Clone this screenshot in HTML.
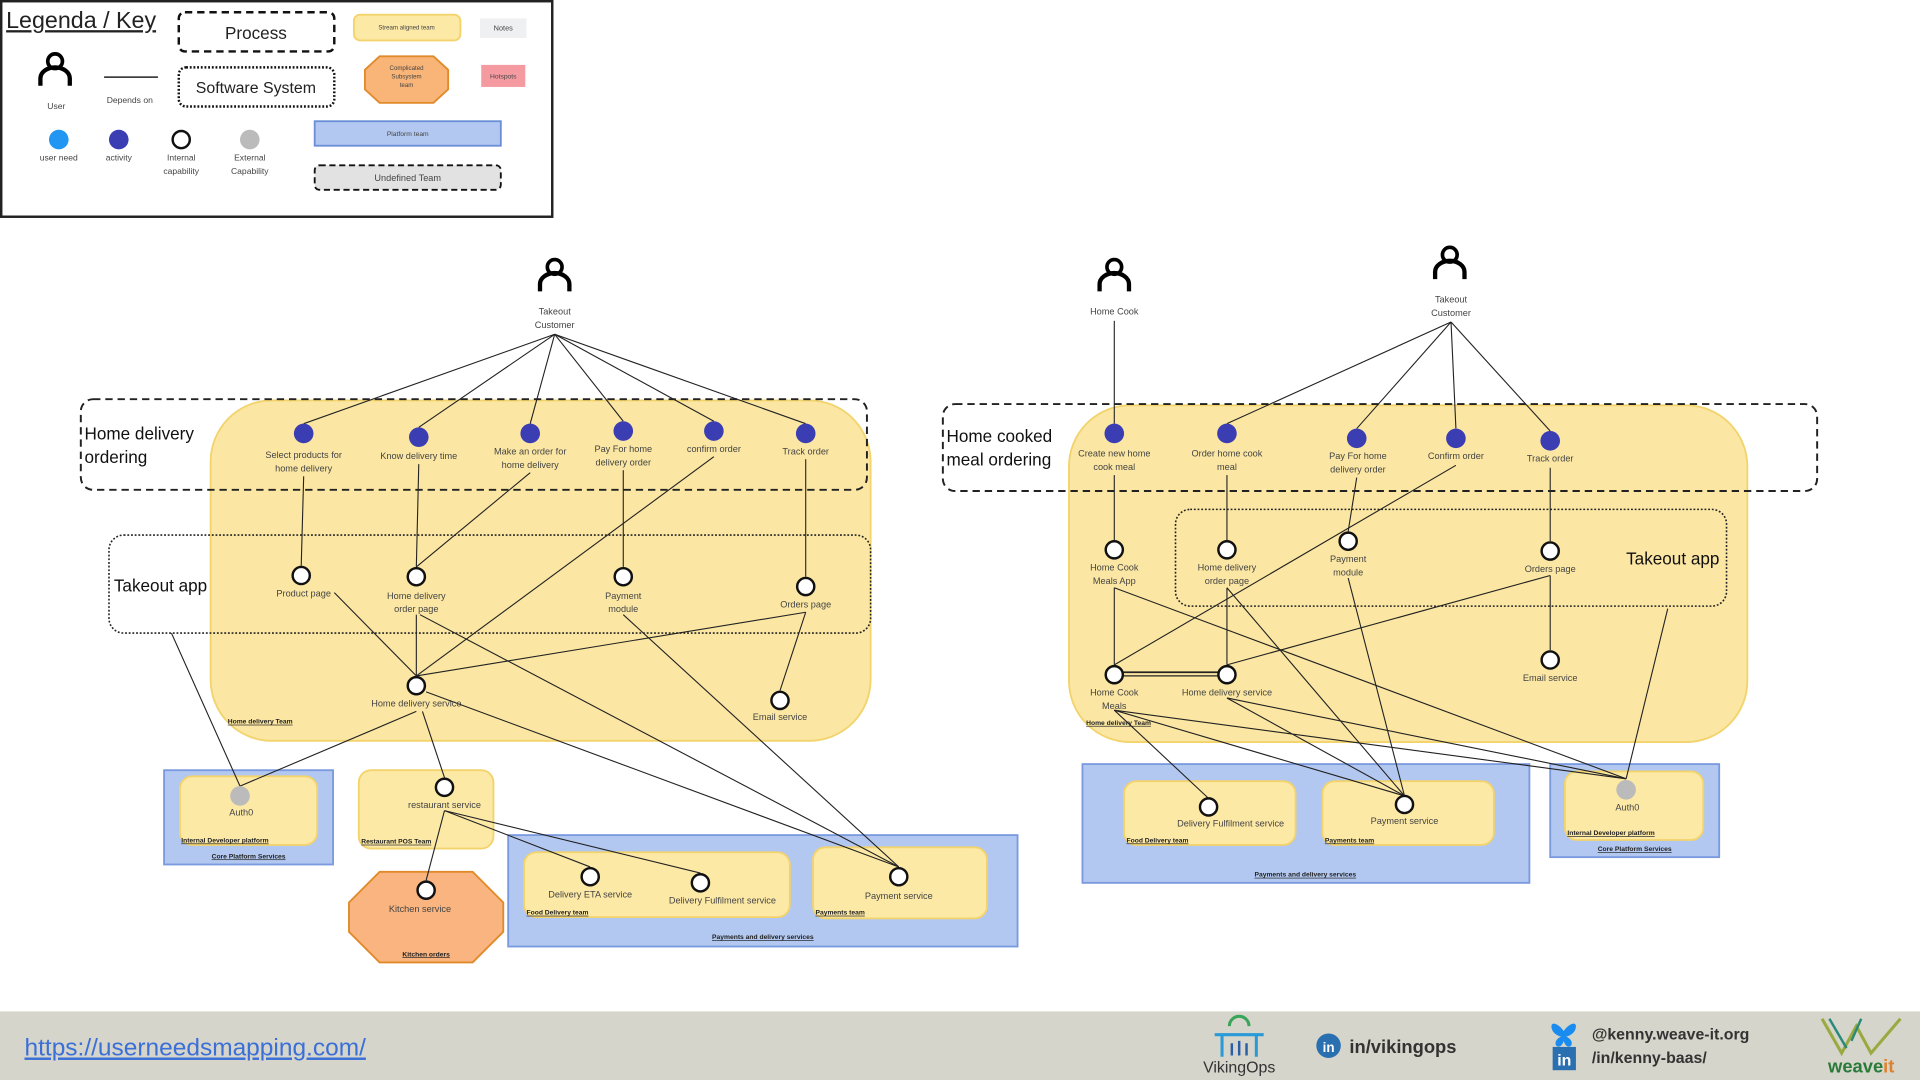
<!DOCTYPE html>
<html><head><meta charset="utf-8"><style>
html,body{margin:0;padding:0;background:#fff;width:1920px;height:1080px;overflow:hidden}
svg{display:block}
text{font-family:"Liberation Sans",sans-serif;fill:#444}
.s{font-size:7.5px;text-anchor:middle}
.t{font-size:5.5px;font-weight:bold;text-decoration:underline;fill:#222}
.c{fill:#fff;stroke:#111;stroke-width:2}
.a{fill:#3b3db3}
.e line,.e path{stroke:#222;stroke-width:0.9;fill:none}
.big{font-size:14px;fill:#111}
</style></head><body>
<svg width="1920" height="1080" viewBox="0 0 1568 882" xmlns="http://www.w3.org/2000/svg">
<defs>
<g id="user"><circle cx="0" cy="-10" r="6" fill="none" stroke="#000" stroke-width="3"/><path d="M-12,10 v-6 a12,9 0 0 1 24,0 v6" fill="none" stroke="#000" stroke-width="3.5"/></g>
</defs>
<!-- Legend -->
<rect x="1" y="1" width="450" height="176" fill="#fff" stroke="#222" stroke-width="2"/>
<text x="5" y="23" style="font-size:19px;fill:#222;text-decoration:underline">Legenda / Key</text>
<rect x="146" y="10" width="127" height="32" rx="5" fill="#fff" stroke="#111" stroke-width="2" stroke-dasharray="6,4"/>
<text x="209" y="32" class="s" style="font-size:14px;fill:#222">Process</text>
<rect x="146" y="55" width="127" height="32" rx="6" fill="#fff" stroke="#111" stroke-width="2" stroke-dasharray="1.5,1.5"/>
<text x="209" y="76" class="s" style="font-size:13px;fill:#222">Software System</text>
<use href="#user" x="45" y="60"/>
<text x="46" y="89" class="s" style="font-size:7px">User</text>
<line x1="85" y1="63" x2="129" y2="63" stroke="#222" stroke-width="1.2"/>
<text x="106" y="84" class="s" style="font-size:7px">Depends on</text>
<circle cx="48" cy="114" r="8" fill="#2196f3"/><circle cx="97" cy="114" r="8" fill="#3b3db3"/>
<circle cx="148" cy="114" r="7" class="c"/><circle cx="204" cy="114" r="8" fill="#bbb"/>
<text x="48" y="131" class="s" style="font-size:7px">user need</text>
<text x="97" y="131" class="s" style="font-size:7px">activity</text>
<text x="148" y="131" class="s" style="font-size:7px">Internal</text><text x="148" y="142" class="s" style="font-size:7px">capability</text>
<text x="204" y="131" class="s" style="font-size:7px">External</text><text x="204" y="142" class="s" style="font-size:7px">Capability</text>
<rect x="289" y="12" width="87" height="21" rx="5" fill="#fde9a6" stroke="#f3d36b" stroke-width="1.5"/>
<text x="332" y="24" class="s" style="font-size:5px">Stream aligned team</text>
<rect x="392" y="15" width="38" height="16" fill="#eef0f2"/><text x="411" y="25" class="s" style="font-size:6px">Notes</text>
<polygon points="310,46 354,46 366,57 366,73 354,84 310,84 298,73 298,57" fill="#f9b477" stroke="#e08a2a" stroke-width="1.5"/>
<text x="332" y="57" class="s" style="font-size:5px">Complicated</text><text x="332" y="64" class="s" style="font-size:5px">Subsystem</text><text x="332" y="71" class="s" style="font-size:5px">team</text>
<rect x="393" y="53" width="36" height="18" fill="#f59aa0"/><text x="411" y="64" class="s" style="font-size:5.5px">Hotspots</text>
<rect x="257" y="99" width="152" height="20" fill="#b3c8f0" stroke="#6a8fd8" stroke-width="1.5"/><text x="333" y="111" class="s" style="font-size:5.5px">Platform team</text>
<rect x="257" y="135" width="152" height="20" rx="4" fill="#e2e2e2" stroke="#111" stroke-width="1.5" stroke-dasharray="5,3"/><text x="333" y="148" class="s" style="font-size:7.5px">Undefined Team</text>

<!-- LEFT DIAGRAM -->
<rect x="172" y="327" width="539" height="278" rx="50" fill="#fbe7a3" stroke="#f2d36c" stroke-width="1.5"/>
<rect x="66" y="326" width="642" height="74" rx="10" fill="none" stroke="#222" stroke-width="1.6" stroke-dasharray="6,4"/>
<text x="69" y="359" class="big">Home delivery</text><text x="69" y="378" class="big">ordering</text>
<rect x="89" y="437" width="622" height="80" rx="12" fill="none" stroke="#222" stroke-width="1.3" stroke-dasharray="1.5,1.5"/>
<text x="93" y="483" class="big">Takeout app</text>
<rect x="134" y="629" width="138" height="77" fill="#b3c8f0" stroke="#7a9ae0" stroke-width="1.5"/>
<rect x="147" y="634" width="112" height="56" rx="10" fill="#fde9a6" stroke="#f3d36b" stroke-width="1.5"/>
<rect x="293" y="629" width="110" height="64" rx="10" fill="#fde9a6" stroke="#f3d36b" stroke-width="1.5"/>
<polygon points="310,712 386,712 411,737 411,761 386,786 310,786 285,761 285,737" fill="#f9b47f" stroke="#e08a2a" stroke-width="1.5"/>
<rect x="415" y="682" width="416" height="91" fill="#b3c8f0" stroke="#7a9ae0" stroke-width="1.5"/>
<rect x="428" y="696" width="217" height="53" rx="10" fill="#fde9a6" stroke="#f3d36b" stroke-width="1.5"/>
<rect x="664" y="692" width="142" height="58" rx="10" fill="#fde9a6" stroke="#f3d36b" stroke-width="1.5"/>
<g class="e">
<line x1="453" y1="273" x2="248" y2="346"/><line x1="453" y1="273" x2="342" y2="349"/><line x1="453" y1="273" x2="433" y2="346"/>
<line x1="453" y1="273" x2="509" y2="344"/><line x1="453" y1="273" x2="583" y2="344"/><line x1="453" y1="273" x2="658" y2="346"/>
<line x1="248" y1="389" x2="246" y2="462"/><line x1="342" y1="379" x2="340" y2="463"/><line x1="433" y1="386" x2="340" y2="463"/>
<line x1="509" y1="384" x2="509" y2="463"/><line x1="583" y1="373" x2="340" y2="552"/><line x1="658" y1="375" x2="658" y2="471"/>
<line x1="340" y1="502" x2="340" y2="552"/><line x1="273" y1="484" x2="340" y2="552"/>
<line x1="658" y1="500" x2="340" y2="552"/><line x1="658" y1="500" x2="637" y2="564"/>
<line x1="343" y1="502" x2="734" y2="708"/><line x1="348" y1="565" x2="734" y2="708"/><line x1="509" y1="502" x2="734" y2="708"/>
<line x1="140" y1="517" x2="196" y2="642"/><line x1="340" y1="581" x2="196" y2="642"/><line x1="345" y1="581" x2="363" y2="635"/>
<line x1="363" y1="662" x2="482" y2="708"/><line x1="363" y1="662" x2="572" y2="713"/><line x1="363" y1="662" x2="348" y2="719"/>
</g>
<g class="a"><circle cx="248" cy="354" r="8"/><circle cx="342" cy="357" r="8"/><circle cx="433" cy="354" r="8"/><circle cx="509" cy="352" r="8"/><circle cx="583" cy="352" r="8"/><circle cx="658" cy="354" r="8"/></g>
<text x="248" y="374" class="s">Select products for</text><text x="248" y="385" class="s">home delivery</text>
<text x="342" y="375" class="s">Know delivery time</text>
<text x="433" y="371" class="s">Make an order for</text><text x="433" y="382" class="s">home delivery</text>
<text x="509" y="369" class="s">Pay For home</text><text x="509" y="380" class="s">delivery order</text>
<text x="583" y="369" class="s">confirm order</text><text x="658" y="371" class="s">Track order</text>
<g><circle cx="246" cy="470" r="7" class="c"/><circle cx="340" cy="471" r="7" class="c"/><circle cx="509" cy="471" r="7" class="c"/><circle cx="658" cy="479" r="7" class="c"/><circle cx="340" cy="560" r="7" class="c"/><circle cx="637" cy="572" r="7" class="c"/>
<circle cx="363" cy="643" r="7" class="c"/><circle cx="348" cy="727" r="7" class="c"/><circle cx="482" cy="716" r="7" class="c"/><circle cx="572" cy="721" r="7" class="c"/><circle cx="734" cy="716" r="7" class="c"/></g>
<circle cx="196" cy="650" r="8" fill="#bbb"/>
<text x="248" y="487" class="s">Product page</text>
<text x="340" y="489" class="s">Home delivery</text><text x="340" y="500" class="s">order page</text>
<text x="509" y="489" class="s">Payment</text><text x="509" y="500" class="s">module</text>
<text x="658" y="496" class="s">Orders page</text>
<text x="340" y="577" class="s">Home delivery service</text><text x="637" y="588" class="s">Email service</text>
<text x="186" y="591" class="t">Home delivery Team</text>
<text x="197" y="666" class="s">Auth0</text><text x="148" y="688" class="t">Internal Developer platform</text>
<text x="203" y="701" class="s t" style="text-anchor:middle">Core Platform Services</text>
<text x="363" y="660" class="s">restaurant service</text><text x="295" y="689" class="t">Restaurant POS Team</text>
<text x="343" y="745" class="s">Kitchen service</text><text x="348" y="781" class="s t" style="text-anchor:middle">Kitchen orders</text>
<text x="482" y="733" class="s">Delivery ETA service</text><text x="590" y="738" class="s">Delivery Fulfilment service</text>
<text x="430" y="747" class="t">Food Delivery team</text>
<text x="734" y="734" class="s">Payment service</text><text x="666" y="747" class="t">Payments team</text>
<text x="623" y="767" class="s t" style="text-anchor:middle">Payments and delivery services</text>
<use href="#user" x="453" y="228"/>
<text x="453" y="257" class="s">Takeout</text><text x="453" y="268" class="s">Customer</text>

<!-- RIGHT DIAGRAM -->
<rect x="873" y="331" width="554" height="275" rx="50" fill="#fbe7a3" stroke="#f2d36c" stroke-width="1.5"/>
<rect x="770" y="330" width="714" height="71" rx="10" fill="none" stroke="#222" stroke-width="1.6" stroke-dasharray="6,4"/>
<text x="773" y="361" class="big">Home cooked</text><text x="773" y="380" class="big">meal ordering</text>
<rect x="960" y="416" width="450" height="79" rx="12" fill="none" stroke="#222" stroke-width="1.3" stroke-dasharray="1.5,1.5"/>
<text x="1328" y="461" class="big">Takeout app</text>
<rect x="884" y="624" width="365" height="97" fill="#b3c8f0" stroke="#7a9ae0" stroke-width="1.5"/>
<rect x="918" y="638" width="140" height="52" rx="10" fill="#fde9a6" stroke="#f3d36b" stroke-width="1.5"/>
<rect x="1080" y="638" width="140" height="52" rx="10" fill="#fde9a6" stroke="#f3d36b" stroke-width="1.5"/>
<rect x="1266" y="624" width="138" height="76" fill="#b3c8f0" stroke="#7a9ae0" stroke-width="1.5"/>
<rect x="1278" y="630" width="113" height="56" rx="10" fill="#fde9a6" stroke="#f3d36b" stroke-width="1.5"/>
<g class="e">
<line x1="910" y1="262" x2="910" y2="346"/>
<line x1="1185" y1="263" x2="1002" y2="346"/><line x1="1185" y1="263" x2="1108" y2="350"/><line x1="1185" y1="263" x2="1189" y2="350"/><line x1="1185" y1="263" x2="1266" y2="352"/>
<line x1="910" y1="388" x2="910" y2="441"/><line x1="1002" y1="388" x2="1002" y2="441"/><line x1="1108" y1="390" x2="1101" y2="434"/>
<line x1="1266" y1="382" x2="1266" y2="442"/><line x1="1266" y1="470" x2="1266" y2="531"/>
<line x1="1189" y1="380" x2="910" y2="543"/><line x1="1266" y1="470" x2="1002" y2="543"/>
<line x1="910" y1="480" x2="910" y2="543"/><line x1="1002" y1="480" x2="1002" y2="543"/>
<line x1="917" y1="549" x2="995" y2="549" style="stroke-width:1.5"/><line x1="917" y1="552" x2="995" y2="552" style="stroke-width:1"/>
<line x1="910" y1="480" x2="1328" y2="636"/><line x1="1002" y1="480" x2="1147" y2="650"/><line x1="1101" y1="472" x2="1147" y2="650"/>
<line x1="1002" y1="570" x2="1147" y2="650"/><line x1="1002" y1="570" x2="1328" y2="636"/>
<line x1="910" y1="580" x2="987" y2="652"/><line x1="910" y1="580" x2="1147" y2="650"/><line x1="910" y1="580" x2="1328" y2="636"/>
<line x1="1362" y1="497" x2="1328" y2="636"/>
</g>
<g class="a"><circle cx="910" cy="354" r="8"/><circle cx="1002" cy="354" r="8"/><circle cx="1108" cy="358" r="8"/><circle cx="1189" cy="358" r="8"/><circle cx="1266" cy="360" r="8"/></g>
<text x="910" y="373" class="s">Create new home</text><text x="910" y="384" class="s">cook meal</text>
<text x="1002" y="373" class="s">Order home cook</text><text x="1002" y="384" class="s">meal</text>
<text x="1109" y="375" class="s">Pay For home</text><text x="1109" y="386" class="s">delivery order</text>
<text x="1189" y="375" class="s">Confirm order</text><text x="1266" y="377" class="s">Track order</text>
<g><circle cx="910" cy="449" r="7" class="c"/><circle cx="1002" cy="449" r="7" class="c"/><circle cx="1101" cy="442" r="7" class="c"/><circle cx="1266" cy="450" r="7" class="c"/><circle cx="1266" cy="539" r="7" class="c"/><circle cx="910" cy="551" r="7" class="c"/><circle cx="1002" cy="551" r="7" class="c"/>
<circle cx="987" cy="659" r="7" class="c"/><circle cx="1147" cy="657" r="7" class="c"/></g>
<circle cx="1328" cy="645" r="8" fill="#bbb"/>
<text x="910" y="466" class="s">Home Cook</text><text x="910" y="477" class="s">Meals App</text>
<text x="1002" y="466" class="s">Home delivery</text><text x="1002" y="477" class="s">order page</text>
<text x="1101" y="459" class="s">Payment</text><text x="1101" y="470" class="s">module</text>
<text x="1266" y="467" class="s">Orders page</text><text x="1266" y="556" class="s">Email service</text>
<text x="910" y="568" class="s">Home Cook</text><text x="910" y="579" class="s">Meals</text>
<text x="1002" y="568" class="s">Home delivery service</text>
<text x="887" y="592" class="t">Home delivery Team</text>
<text x="1005" y="675" class="s">Delivery Fulfilment service</text><text x="920" y="688" class="t">Food Delivery team</text>
<text x="1147" y="673" class="s">Payment service</text><text x="1082" y="688" class="t">Payments team</text>
<text x="1066" y="716" class="s t" style="text-anchor:middle">Payments and delivery services</text>
<text x="1329" y="662" class="s">Auth0</text><text x="1280" y="682" class="t">Internal Developer platform</text>
<text x="1335" y="695" class="s t" style="text-anchor:middle">Core Platform Services</text>
<use href="#user" x="910" y="228"/><text x="910" y="257" class="s">Home Cook</text>
<use href="#user" x="1184" y="218"/><text x="1185" y="247" class="s">Takeout</text><text x="1185" y="258" class="s">Customer</text>

<!-- FOOTER -->
<rect x="0" y="826" width="1568" height="56" fill="#d5d5cb"/>
<text x="20" y="862" style="font-size:20px;fill:#3b6fd8;text-decoration:underline">https://userneedsmapping.com/</text>
<g fill="none" stroke="#2a9bd6" stroke-width="2.5"><path d="M992,845 h40 M998,845 v18 M1026,845 v18"/><path d="M1004,838 a8,8 0 0 1 16,0" stroke="#3aa55a"/><path d="M1006,852 v10 M1012,850 v12 M1018,852 v10" stroke="#2a5fa8" stroke-width="2"/></g>
<text x="1012" y="876" class="s" style="font-size:13px;fill:#333">VikingOps</text>
<circle cx="1085" cy="854" r="10" fill="#2a6fb0"/><text x="1085" y="859" class="s" style="font-size:11px;fill:#fff;font-weight:bold">in</text>
<text x="1102" y="860" style="font-size:15px;font-weight:bold;fill:#333">in/vikingops</text>
<path d="M1277,842 c-4,-6 -10,-8 -10,-4 c0,4 3,8 10,9 c7,-1 10,-5 10,-9 c0,-4 -6,-2 -10,4 z M1277,846 c-5,1 -8,5 -6,8 c2,2 5,0 6,-4 c1,4 4,6 6,4 c2,-3 -1,-7 -6,-8z" fill="#1a8cf0"/>
<rect x="1268" y="855" width="19" height="19" fill="#2a6fb0"/><text x="1277.5" y="870" class="s" style="font-size:13px;fill:#fff;font-weight:bold">in</text>
<text x="1300" y="849" style="font-size:13px;font-weight:bold;fill:#333">@kenny.weave-it.org</text>
<text x="1300" y="868" style="font-size:13px;font-weight:bold;fill:#333">/in/kenny-baas/</text>
<path d="M1488,832 l16,28 l12,-22 l12,22 l24,-28" fill="none" stroke="#9aaa40" stroke-width="2.5"/>
<path d="M1494,832 l14,24 M1520,832 l-8,18" fill="none" stroke="#2a8a7a" stroke-width="2"/>
<text x="1520" y="876" class="s" style="font-size:15px;font-weight:bold;fill:#2a7a3a">weave<tspan style="fill:#e0802a">it</tspan></text>
</svg>
</body></html>
